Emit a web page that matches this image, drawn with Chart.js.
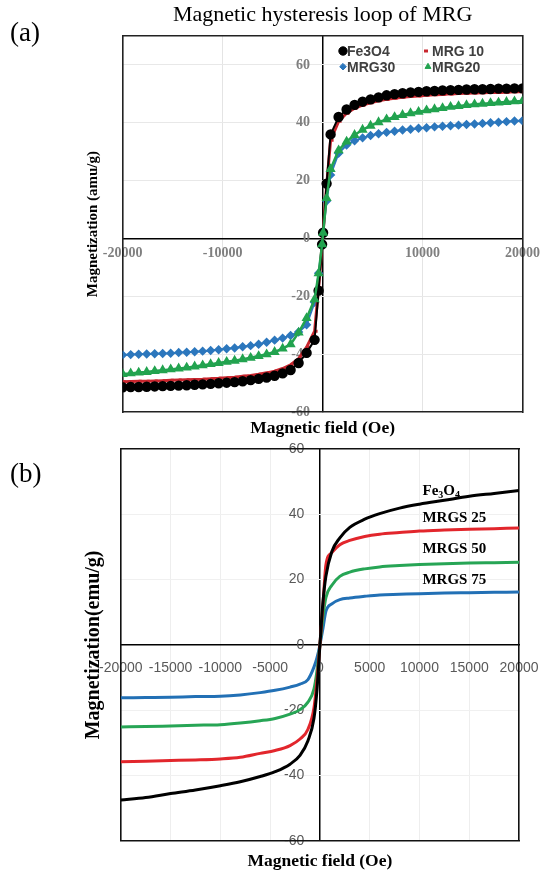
<!DOCTYPE html>
<html><head><meta charset="utf-8">
<script src="https://cdn.jsdelivr.net/npm/chart.js@4/dist/chart.umd.min.js"></script>
<style>
html,body{margin:0;padding:0;background:#fff;width:553px;height:871px;overflow:hidden;position:relative;}
#wa{position:absolute;left:0;top:0;width:553px;height:442px;}
#wb{position:absolute;left:0;top:437px;width:553px;height:440px;}
.panel{position:absolute;font-family:"Liberation Serif";font-size:27px;color:#000;line-height:1;}
</style></head><body>
<div id="wa"><canvas id="ca"></canvas></div>
<div id="wb"><canvas id="cb"></canvas></div>
<div class="panel" style="left:10px;top:19px">(a)</div>
<div class="panel" style="left:10px;top:460px">(b)</div>
<script>
// ---------- Data: panel (a) ----------
const fieldA = [-20000,-19200,-18400,-17600,-16800,-16000,-15200,-14400,-13600,-12800,-12000,-11200,-10400,-9600,-8800,-8000,-7200,-6400,-5600,-4800,-4000,-3200,-2400,-1600,-800,-400,-50,
  50,400,800,1600,2400,3200,4000,4800,5600,6400,7200,8000,8800,9600,10400,11200,12000,12800,13600,14400,15200,16000,16800,17600,18400,19200,20000];
const fe3o4A = [-51.4,-51.3,-51.3,-51.2,-51.1,-51.0,-50.9,-50.8,-50.7,-50.5,-50.4,-50.2,-50.0,-49.8,-49.6,-49.3,-48.9,-48.5,-48.0,-47.4,-46.6,-45.4,-43.0,-39.5,-35.0,-18.0,-2.0,
  2.0,19.0,36.0,42.0,44.6,46.2,47.3,48.1,48.8,49.5,49.9,50.2,50.5,50.7,50.9,51.0,51.2,51.3,51.4,51.5,51.6,51.6,51.7,51.8,51.8,51.9,51.9];
const mrg10A = [-49.5,-49.4,-49.3,-49.3,-49.2,-49.1,-49.0,-48.9,-48.8,-48.7,-48.6,-48.4,-48.3,-48.1,-47.9,-47.6,-47.3,-46.9,-46.4,-45.8,-44.9,-43.6,-41.5,-37.5,-32.0,-17.0,-2.0,
  2.0,18.0,34.0,40.5,43.3,45.0,46.1,46.9,47.6,48.1,48.5,48.8,49.1,49.3,49.5,49.7,49.8,50.0,50.1,50.2,50.3,50.4,50.5,50.5,50.6,50.7,50.7];
const mrg30A = [-40.2,-40.1,-40.0,-39.9,-39.8,-39.7,-39.6,-39.4,-39.3,-39.1,-38.9,-38.7,-38.4,-38.1,-37.8,-37.4,-37.0,-36.5,-35.8,-35.1,-34.4,-33.5,-32.3,-29.8,-22.0,-12.0,-2.0,
  2.0,13.0,22.0,29.5,32.3,33.8,34.8,35.6,36.2,36.7,37.1,37.5,37.8,38.1,38.3,38.6,38.8,39.0,39.2,39.4,39.6,39.8,40.0,40.2,40.4,40.6,40.7];
const mrg20A = [-46.8,-46.6,-46.3,-46.1,-45.8,-45.5,-45.2,-44.9,-44.6,-44.2,-43.8,-43.4,-43.0,-42.6,-42.2,-41.7,-41.2,-40.6,-40.0,-39.2,-38.0,-36.5,-32.5,-27.5,-21.0,-12.0,-2.0,
  2.0,14.0,24.0,30.5,33.5,35.8,37.6,39.0,40.2,41.2,42.0,42.7,43.3,43.8,44.3,44.7,45.1,45.5,45.8,46.1,46.4,46.6,46.8,47.0,47.2,47.4,47.5];
const seriesNamesA = ['Fe3O4','MRG 10','MRG30','MRG20'];

// ---------- Data: panel (b) ----------
const fieldB = [-20000,-17500,-15000,-12500,-10000,-8000,-6000,-4500,-3000,-2000,-1200,-600,-300,0,300,600,1200,2000,3000,4500,6000,8000,10000,12500,15000,17500,20000];
const fe3o4B = [-47.5,-46.7,-45.5,-44.4,-43.1,-41.9,-40.3,-38.8,-36.5,-33.8,-29.3,-22.5,-14.0,0,13.0,21.0,28.6,32.8,36.0,38.5,40.2,41.9,43.1,44.3,45.5,46.4,47.3];
const mrgs25B = [-35.8,-35.6,-35.4,-35.2,-34.9,-34.4,-33.2,-32.3,-30.8,-28.8,-25.8,-19.3,-11.0,0,12.0,24.5,28.3,30.7,32.0,33.2,33.9,34.4,34.9,35.2,35.4,35.6,35.8];
const mrgs50B = [-25.1,-25.0,-24.8,-24.6,-24.4,-23.9,-23.2,-22.5,-21.2,-19.8,-17.5,-13.5,-8.0,0,8.5,14.5,18.3,21.0,22.3,23.3,23.9,24.3,24.6,24.9,25.1,25.2,25.3];
const mrgs75B = [-16.2,-16.1,-16.0,-15.8,-15.7,-15.3,-14.6,-13.9,-12.9,-12.0,-10.6,-6.8,-4.0,0,5.0,10.3,12.6,13.9,14.4,14.9,15.3,15.5,15.7,15.9,16.0,16.1,16.2];
const seriesNamesB = ['Fe3O4','MRGS 25','MRGS 50','MRGS 75'];
const labelFieldB = [10300,10300,10300,10300];
const labelMagB = [47.0,38.9,29.4,20.0];

// ---------- Tick settings ----------
const xTicksA = {min:-20000, max:20000, step:10000};
const yTicksA = {min:-60, max:70, step:20};
const xTicksB = {min:-20000, max:20000, step:5000};
const yTicksB = {min:-60, max:60, step:20};

function pts(xs, ys){ return xs.map((x,i)=>({x:x, y:ys[i]})); }

const SERIF = '"Liberation Serif", "Times New Roman", serif';
const SANS = '"Liberation Sans", Arial, sans-serif';
const transparent = 'rgba(0,0,0,0)';

function frameAxis(pos, axis, titleText, titleFont, titlePad, color){
  const o = {type:'linear', axis:axis, position:pos, display:true,
    ticks:{display:false}, grid:{display:false, drawTicks:false, tickLength:0},
    border:{display:true, color:color, width:1.6}};
  if (titleText) o.title = {display:true, text:titleText, color:'#000', font:titleFont, padding:titlePad};
  return o;
}

const legendGridA = {
  id:'legendGridA',
  afterDraw(chart){
    const {ctx, chartArea} = chart;
    const colX = [220.3, 305.3], rowY = [15, 30.7];
    ctx.save();
    chart.data.datasets.forEach((ds,i)=>{
      const x = chartArea.left + colX[i%2];
      const y = chartArea.top + rowY[Math.floor(i/2)];
      ctx.fillStyle = ds.pointBackgroundColor; ctx.strokeStyle = ds.pointBorderColor;
      ctx.lineWidth = ds.pointStyle === 'dash' ? 3 : 1;
      Chart.helpers.drawPoint(ctx, {pointStyle: ds.pointStyle, radius: ds.pointStyle==='dash'?4:ds.pointRadius, rotation:0, borderWidth: ctx.lineWidth}, ds.pointStyle==='dash'? x-4 : x, y);
      ctx.fillStyle = '#404040';
      ctx.font = 'bold 14px ' + SANS;
      ctx.textBaseline = 'middle'; ctx.textAlign = 'left';
      ctx.fillText(ds.label, x + 4, y + 1);
    });
    ctx.restore();
  }
};

const curveLabelsB = {
  id:'curveLabelsB',
  afterDatasetsDraw(chart){
    const {ctx, scales} = chart;
    ctx.save();
    ctx.fillStyle = '#000'; ctx.textBaseline = 'middle'; ctx.textAlign = 'left';
    seriesNamesB.forEach((name,i)=>{
      let x = scales.x.getPixelForValue(labelFieldB[i]);
      const y = scales.y.getPixelForValue(labelMagB[i]);
      if (name === 'Fe3O4') {
        const parts = [['Fe',0],['3',1],['O',0],['4',1]];
        parts.forEach(([t,sub])=>{
          ctx.font = 'bold ' + (sub?10:15) + 'px ' + SERIF;
          ctx.fillText(t, x, sub ? y + 4 : y);
          x += ctx.measureText(t).width;
        });
      } else {
        ctx.font = 'bold 15px ' + SERIF;
        ctx.fillText(name, x, y);
      }
    });
    ctx.restore();
  }
};

// ---------- Chart (a) ----------
new Chart(document.getElementById('ca'), {
  type:'line',
  data:{datasets:[
    {label:seriesNamesA[0], data:pts(fieldA,fe3o4A), borderColor:'#000000', backgroundColor:'#000000', borderWidth:2,
      pointStyle:'circle', pointRadius:4.2, pointBackgroundColor:'#000000', pointBorderColor:'#000000', order:2, xAxisID:'x', yAxisID:'y'},
    {label:seriesNamesA[1], data:pts(fieldA,mrg10A), borderColor:'#c8262e', backgroundColor:'#c8262e', borderWidth:3,
      pointStyle:'dash', pointRadius:3, pointBackgroundColor:'#c8262e', pointBorderColor:'#c8262e', order:3, xAxisID:'x', yAxisID:'y'},
    {label:seriesNamesA[2], data:pts(fieldA,mrg30A), borderColor:'#2c77bd', backgroundColor:'#2c77bd', borderWidth:2,
      pointStyle:'rectRot', pointRadius:3.3, pointBackgroundColor:'#2c77bd', pointBorderColor:'#2c77bd', order:4, xAxisID:'x', yAxisID:'y'},
    {label:seriesNamesA[3], data:pts(fieldA,mrg20A), borderColor:'#22a34f', backgroundColor:'#22a34f', borderWidth:2.5,
      pointStyle:'triangle', pointRadius:3.4, pointBackgroundColor:'#22a34f', pointBorderColor:'#22a34f', order:1, xAxisID:'x', yAxisID:'y'}
  ]},
  options:{
    animation:false, responsive:true, maintainAspectRatio:false,
    layout:{padding:{left:80, right:30.5, top:0, bottom:0.8}},
    elements:{line:{tension:0}},
    plugins:{
      legend:{display:false}, tooltip:{enabled:false},
      title:{display:true, text:'Magnetic hysteresis loop of MRG', fullSize:false, color:'#000',
        font:{family:SERIF, size:22, weight:'normal', lineHeight:1.2}, padding:{top:1.8, bottom:7.8}}
    },
    scales:{
      x:{type:'linear', axis:'x', position:{y:0}, min:xTicksA.min, max:xTicksA.max,
        ticks:{stepSize:xTicksA.step, autoSkip:false, maxRotation:0, padding:6, color:'#7f7f7f',
          font:{family:SERIF, size:14, weight:'bold'}, callback:(v)=> v===0 ? '' : String(v)},
        grid:{drawTicks:false,
          color:(c)=> !c.tick ? transparent : (c.tick.value===0 ? '#000' : (Math.abs(c.tick.value)===20000 ? transparent : '#e4e4e4')),
          lineWidth:(c)=> (c.tick && c.tick.value===0) ? 1.5 : 1},
        border:{display:true, color:'#000', width:1.5}},
      y:{type:'linear', axis:'y', position:{x:-1270}, min:yTicksA.min, max:yTicksA.max,
        ticks:{stepSize:yTicksA.step, includeBounds:false, color:'#7f7f7f',
          font:{family:SERIF, size:14, weight:'bold'}, callback:(v)=> String(v)},
        grid:{drawTicks:false, color:(c)=> (c.tick && (c.tick.value===0 || c.tick.value===-60)) ? transparent : '#e8e8e8'},
        border:{display:false}},
      xb: frameAxis('bottom','x','Magnetic field (Oe)', {family:SERIF, size:17.5, weight:'bold', lineHeight:1.2}, {top:6, bottom:2}, '#222'),
      xt: frameAxis('top','x', null, null, null, '#222'),
      yl: frameAxis('left','y','Magnetization (amu/g)', {family:SERIF, size:15, weight:'bold', lineHeight:1.2}, {top:4, bottom:20.7}, '#222'),
      yr: frameAxis('right','y', null, null, null, '#222')
    }
  },
  plugins:[legendGridA]
});

// ---------- Chart (b) ----------
new Chart(document.getElementById('cb'), {
  type:'line',
  data:{datasets:[
    {label:seriesNamesB[0], data:pts(fieldB,fe3o4B), borderColor:'#000000', borderWidth:3, pointRadius:0, order:1, xAxisID:'x', yAxisID:'y'},
    {label:seriesNamesB[1], data:pts(fieldB,mrgs25B), borderColor:'#e2262c', borderWidth:3, pointRadius:0, order:2, xAxisID:'x', yAxisID:'y'},
    {label:seriesNamesB[2], data:pts(fieldB,mrgs50B), borderColor:'#27a555', borderWidth:3, pointRadius:0, order:3, xAxisID:'x', yAxisID:'y'},
    {label:seriesNamesB[3], data:pts(fieldB,mrgs75B), borderColor:'#2270b5', borderWidth:3, pointRadius:0, order:4, xAxisID:'x', yAxisID:'y'}
  ]},
  options:{
    animation:false, responsive:true, maintainAspectRatio:false,
    layout:{padding:{left:78, right:23.8, top:12, bottom:3.1}},
    elements:{line:{cubicInterpolationMode:'monotone'}},
    plugins:{legend:{display:false}, tooltip:{enabled:false}, title:{display:false}},
    scales:{
      x:{type:'linear', axis:'x', position:{y:0}, min:xTicksB.min, max:xTicksB.max,
        ticks:{stepSize:xTicksB.step, autoSkip:false, maxRotation:0, padding:14.5, color:'#595959',
          font:{family:SANS, size:14}, callback:(v)=> String(v)},
        grid:{drawTicks:false,
          color:(c)=> !c.tick ? transparent : (c.tick.value===0 ? '#000' : (Math.abs(c.tick.value)===20000 ? transparent : '#eeeeee')),
          lineWidth:(c)=> (c.tick && c.tick.value===0) ? 1.5 : 1},
        border:{display:true, color:'#000', width:1.5}},
      y:{type:'linear', axis:'y', position:{x:-1570}, min:yTicksB.min, max:yTicksB.max,
        ticks:{stepSize:yTicksB.step, color:'#595959',
          font:{family:SANS, size:14}, callback:(v)=> String(v)},
        grid:{drawTicks:false, color:(c)=> (c.tick && (c.tick.value===0 || Math.abs(c.tick.value)===60)) ? transparent : '#f0f0f0'},
        border:{display:false}},
      xb: frameAxis('bottom','x','Magnetic field (Oe)', {family:SERIF, size:17.5, weight:'bold', lineHeight:1.2}, {top:10, bottom:2}, '#111'),
      xt: frameAxis('top','x', null, null, null, '#111'),
      yl: frameAxis('left','y','Magnetization(emu/g)', {family:SERIF, size:20, weight:'bold', lineHeight:1.2}, {top:4, bottom:14.8}, '#111'),
      yr: frameAxis('right','y', null, null, null, '#111')
    }
  },
  plugins:[curveLabelsB]
});
</script>
</body></html>
